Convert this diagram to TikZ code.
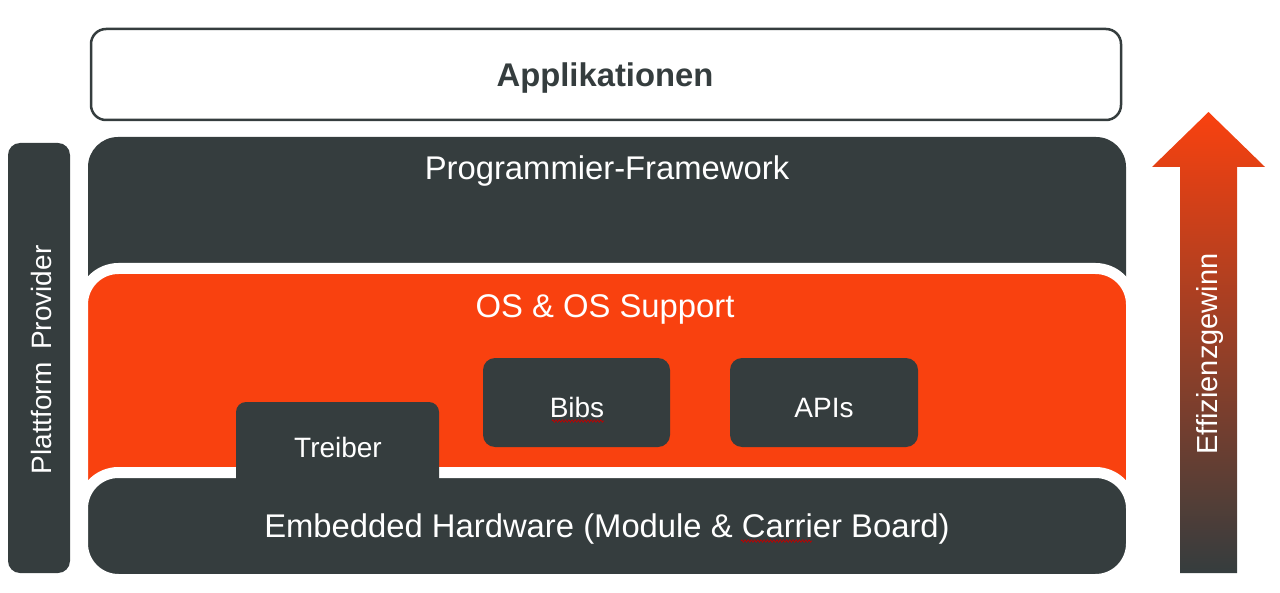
\documentclass[tikz,border=0pt]{standalone}
\usepackage{fontspec}
\setmainfont{Liberation Sans}
\usetikzlibrary{decorations.pathmorphing}
\definecolor{darkC}{HTML}{353D3E}
\definecolor{orangeC}{HTML}{F9410F}
\definecolor{midC}{HTML}{AA3432}
\begin{document}
\begin{tikzpicture}[x=0.5pt,y=-0.5pt,
  bigtext/.style={font=\fontsize{16.4pt}{19pt}\selectfont, text=white, anchor=base, inner sep=0pt},
  smalltext/.style={font=\fontsize{14pt}{17pt}\selectfont, text=white, anchor=base, inner sep=0pt},
  vertext/.style={font=\fontsize{14.5pt}{17pt}\selectfont, text=white, anchor=base, inner sep=0pt, rotate=90},
  sepline/.style={draw=white, line width=5.5pt},
  squiggle/.style={draw=red!75!black, line width=0.35pt, decorate, decoration={zigzag, amplitude=0.6pt, segment length=1.6pt}}
]
\useasboundingbox (0,0) rectangle (1280,593);

% Applikationen
\draw[darkC, line width=1.25pt, fill=white, rounded corners=7.5pt] (91,29) rectangle (1121,120);
\node[bigtext, text=darkC, font=\fontsize{16.4pt}{19pt}\selectfont\bfseries] (app) at (605,87) {Applikationen};

% Plattform Provider bar
\fill[darkC, rounded corners=6pt] (8,143) rectangle (70,573);
\node[vertext, font=\fontsize{14pt}{17pt}\selectfont] (pp) at (51,360) {Plattform\hspace{0.45em}Provider};

% Programmier-Framework layer
\fill[darkC, rounded corners=15pt] (88,137) rectangle (1126,350);
\node[bigtext] (fw) at (607,180) {Programmier-Framework};

% OS layer
\filldraw[fill=orangeC, sepline, rounded corners=18pt] (82.5,268.5) rectangle (1131.5,545);
\node[bigtext] (os) at (605,318) {OS \& OS Support};

% Hardware layer
\filldraw[fill=darkC, sepline, rounded corners=18pt] (82.5,472.5) rectangle (1131.5,579.5);
\node[bigtext] (hw) at (607,537) {Embedded Hardware (Module \& Carrier Board)};

% Treiber
\fill[darkC, rounded corners=5pt] (236,402) rectangle (439,500);
\node[smalltext] (tr) at (338,457) {Treiber};

% Bibs and APIs
\fill[darkC, rounded corners=6pt] (483,358) rectangle (670,447);
\node[smalltext] (bibs) at (577,417) {Bibs};
\fill[darkC, rounded corners=6pt] (730,358) rectangle (918,447);
\node[smalltext] (apis) at (824,417) {APIs};

% spell-check marks
\draw[squiggle] (552,421) -- (604,421);
\draw[squiggle] (741,541) -- (812,541);

% Effizienzgewinn arrow
\shade[top color=orangeC, middle color=midC, bottom color=darkC]
  (1180,573) -- (1180,167) -- (1152,167) -- (1208.5,112) -- (1265,167) -- (1237,167) -- (1237,573) -- cycle;
\node[vertext] (eff) at (1217,354) {Effizienzgewinn};
\end{tikzpicture}
\end{document}
